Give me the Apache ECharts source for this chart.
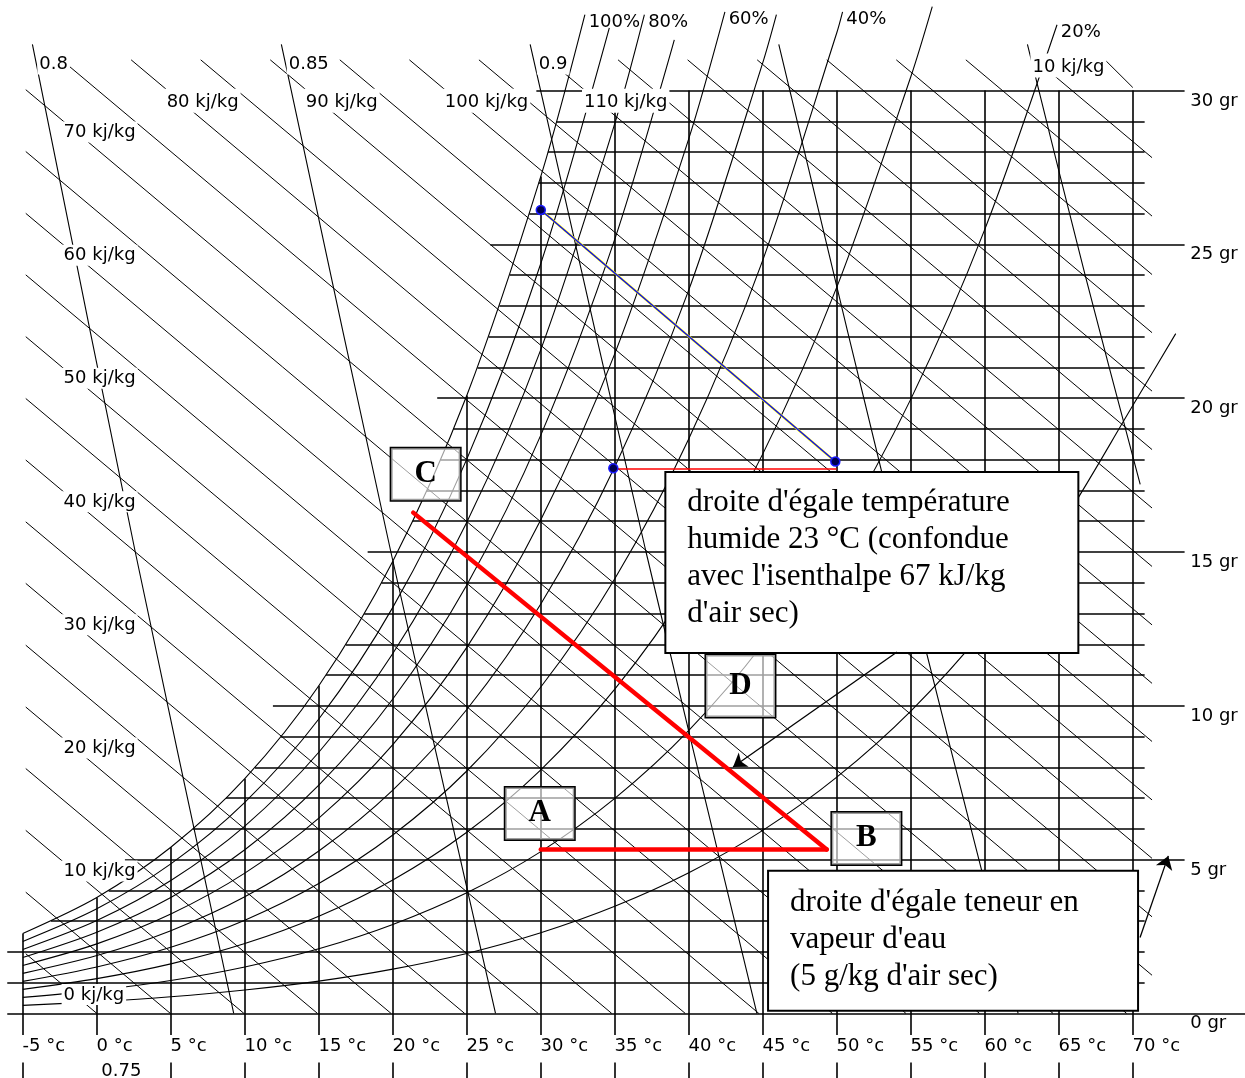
<!DOCTYPE html>
<html>
<head>
<meta charset="utf-8">
<title>Diagramme de l'air humide</title>
<script src="https://cdn.jsdelivr.net/npm/echarts@6/dist/echarts.min.js"></script>
<style>
  html, body { margin: 0; padding: 0; background: #fff; }
  #chart { width: 1245px; height: 1078px; }
</style>
</head>
<body>
<div id="chart"></div>
<script>
// dry-bulb temperature isotherms (°C) and where each one stops (g/kg)
const tempTicks = [-5, 0, 5, 10, 15, 20, 25, 30, 35, 40, 45, 50, 55, 60, 65, 70]
const isothermTop = [2.60, 3.77, 5.40, 7.63, 10.65, 14.70, 20.09, 27.21, 30, 30, 30, 30, 30, 30, 30, 30]

// moisture content lines (g/kg), left start and right end in °C
const moistureLevels = [0, 1, 2, 3, 4, 5, 6, 7, 8, 9, 10, 11, 12, 13, 14, 15, 16, 17, 18, 19, 20, 21, 22, 23, 24, 25, 26, 27, 28, 29, 30]
const moistureStart = [-6.05, -6.05, -6.05, -3.1, 0.8, 1.9, 6.5, 8.73, 10.69, 12.45, 11.9, 15.49, 16.83, 18.07, 19.23, 18.3,
  21.34, 22.31, 23.22, 24.10, 23.0, 25.72, 26.47, 27.20, 27.90, 26.6, 29.22, 29.86, 30.48, 31.08, 29.7]
const moistureEnd = [77.6, 70.8, 70.8, 70.8, 70.8, 73.5, 70.8, 70.8, 70.8, 70.8, 73.5, 70.8, 70.8, 70.8, 70.8, 73.5,
  70.8, 70.8, 70.8, 70.8, 73.5, 70.8, 70.8, 70.8, 70.8, 73.5, 70.8, 70.8, 70.8, 70.8, 73.5]
const moistureTicks = [0, 5, 10, 15, 20, 25, 30]

// isenthalps (kJ/kg) : [T, w] at each end
const enthalpyValues = [0, 5, 10, 15, 20, 25, 30, 35, 40, 45, 50, 55, 60, 65, 70, 75, 80, 85, 90, 95, 100, 105, 110, 115, 120, 125, 130, 135, 140, 145, 150]
const enthalpyFrom = [[-4.8, 1.94], [-4.8, 3.94], [-4.8, 5.95], [-4.8, 7.96], [-4.8, 9.96], [-4.8, 11.97], [-4.8, 13.98], [-4.8, 15.98],
  [-4.8, 17.99], [-4.8, 19.99], [-4.8, 22.0], [-4.8, 24.01], [-4.8, 26.01], [-4.8, 28.02], [-4.8, 30.03], [-2.38, 31], [2.32, 31],
  [7.02, 31], [11.72, 31], [16.42, 31], [21.12, 31], [25.82, 31], [30.52, 31], [35.22, 31], [39.92, 31], [44.62, 31], [49.32, 31],
  [54.02, 31], [58.72, 31], [63.42, 31], [68.12, 31]]
const enthalpyTo = [[0, 0], [4.97, 0], [9.94, 0], [14.91, 0], [19.88, 0], [24.85, 0], [29.82, 0], [34.79, 0], [39.76, 0], [44.73, 0],
  [49.70, 0], [54.67, 0], [59.64, 0], [64.61, 0], [69.58, 0], [71.3, 1.24], [71.3, 3.14], [71.3, 5.04], [71.3, 6.94], [71.3, 8.84],
  [71.3, 10.73], [71.3, 12.63], [71.3, 14.53], [71.3, 16.43], [71.3, 18.33], [71.3, 20.23], [71.3, 22.13], [71.3, 24.02],
  [71.3, 25.92], [71.3, 27.82], [70.0, 30.1]]
const enthalpyLabelText = ['0 kj/kg', '10 kj/kg', '20 kj/kg', '30 kj/kg', '40 kj/kg', '50 kj/kg', '60 kj/kg', '70 kj/kg',
  '80 kj/kg', '90 kj/kg', '100 kj/kg', '110 kj/kg', '10 kj/kg']
const enthalpyLabelAt = [[-2.36, 0.95], [-2.36, 4.96], [-2.36, 8.96], [-2.36, 12.97], [-2.36, 16.97], [-2.36, 20.98], [-2.36, 24.98],
  [-2.36, 28.99], [4.6, 30.05], [14.0, 30.05], [23.4, 30.05], [32.8, 30.05], [63.1, 31.2]]

// relative humidity curves, [T, w]
const rh100 = [[-5, 2.60], [0, 3.77], [5, 5.40], [10, 7.63], [15, 10.65], [20, 14.70], [25, 20.09], [30, 27.21], [32.98, 32.47]]
const rh90 = [[-5, 2.34], [0, 3.40], [5, 4.86], [10, 6.86], [15, 9.57], [20, 13.20], [25, 18.02], [30, 24.38], [34.63, 32.04]]
const rh80 = [[-5, 2.08], [0, 3.02], [5, 4.32], [10, 6.09], [15, 8.49], [20, 11.70], [25, 15.97], [30, 21.58], [35, 28.93], [37.0, 32.47]]
const rh70 = [[-5, 1.82], [0, 2.64], [5, 3.77], [10, 5.32], [15, 7.42], [20, 10.22], [25, 13.93], [30, 18.80], [35, 25.17], [39.02, 31.65]]
const rh60 = [[-5, 1.56], [0, 2.26], [5, 3.23], [10, 4.56], [15, 6.35], [20, 8.74], [25, 11.90], [30, 16.05], [35, 21.45], [40, 28.44], [42.44, 32.56]]
const rh50 = [[-5, 1.30], [0, 1.88], [5, 2.69], [10, 3.79], [15, 5.28], [20, 7.26], [25, 9.88], [30, 13.31], [35, 17.77], [40, 23.52], [45, 30.91], [45.92, 32.47]]
const rh40 = [[-5, 1.04], [0, 1.51], [5, 2.15], [10, 3.03], [15, 4.22], [20, 5.80], [25, 7.88], [30, 10.61], [35, 14.13], [40, 18.68], [45, 24.49], [50, 31.88], [50.39, 32.56]]
const rh30 = [[-5, 0.78], [0, 1.13], [5, 1.61], [10, 2.27], [15, 3.16], [20, 4.34], [25, 5.89], [30, 7.92], [35, 10.54], [40, 13.90], [45, 18.19], [50, 23.61], [55, 30.45], [56.45, 32.73]]
const rh20 = [[-5, 0.52], [0, 0.75], [5, 1.07], [10, 1.51], [15, 2.10], [20, 2.89], [25, 3.92], [30, 5.26], [35, 6.99], [40, 9.20], [45, 12.01], [50, 15.54], [55, 19.97], [60, 25.49], [64.88, 32.14]]
const rh10 = [[-5, 0.26], [0, 0.38], [5, 0.54], [10, 0.76], [15, 1.05], [20, 1.44], [25, 1.95], [30, 2.62], [35, 3.48], [40, 4.57], [45, 5.95], [50, 7.68], [55, 9.83], [60, 12.49], [65, 15.76], [70, 19.76], [72.9, 22.1]]
const rhLabelText = ['100%', '80%', '60%', '40%', '20%']
const rhLabelAt = [[32.98, 32.47], [37.0, 32.47], [42.44, 32.56], [50.39, 32.56], [64.88, 32.14]]

// specific volume lines (m3/kg)
const vol080 = [[9.25, 0], [2.60, 15], [-4.35, 31.5]]
const vol085 = [[26.94, 0], [19.87, 15], [12.47, 31.5]]
const vol090 = [[44.60, 0], [37.11, 15], [29.28, 31.5]]
const vol095 = [[62.25, 0], [54.35, 15], [46.08, 31.5]]
const vol100 = [[70.5, 17.2], [66.78, 24], [62.88, 31.5]]
const volumeLabelText = ['0.8', '0.85', '0.9', '0.75']
const volumeLabelAt = [[-4.0, 31.2], [12.85, 31.2], [29.75, 31.2], [-0.15, -1.55]]

// process marks
const lineAB = [[30, 5.33], [49.32, 5.33]]
const lineBC = [[49.32, 5.33], [21.38, 16.28]]
const mixLine = [[30, 26.12], [49.9, 17.94]]
const heatLine = [[34.9, 17.72], [49.99, 17.72]]
const statePoints = [[30, 26.12], [34.9, 17.72], [49.9, 17.94]]
const letterText = ['C', 'D', 'A', 'B']
const letterAt = [[22.22, 17.53], [43.49, 10.64], [29.93, 6.50], [52.0, 5.69]]
const arrowFrom = [[54.07, 11.75], [70.49, 2.47]]
const arrowTo = [[42.99, 8.01], [72.4, 5.12]]
const noteWetBulb = "droite d'égale température\nhumide 23 °C (confondue\navec l'isenthalpe 67 kJ/kg\nd'air sec)"
const noteMoisture = "droite d'égale teneur en\nvapeur d'eau\n(5 g/kg d'air sec)"
const noteAt = [[38.5, 17.56], [45.44, 4.6]]

// pixel mapping of the picture (0 °C / 0 g position and scale)
const X0 = 96.8, PX_C = 14.8, Y0 = 1013.4, PX_G = 30.76, W = 1245, H = 1078

const chart = echarts.init(document.getElementById('chart'))
const small = { fontFamily: 'DejaVu Sans', fontSize: 18, color: '#000', lineHeight: 18 }
const seg = (a, b) => ({ coords: [a, b] })
const segLines = (data, style, z) => ({ type: 'lines', coordinateSystem: 'cartesian2d', polyline: false, silent: true,
  z: z || 2, lineStyle: Object.assign({ color: '#000', width: 1, opacity: 1 }, style), data })
const curve = (data, width) => ({ type: 'line', data, symbol: 'none', smooth: 0.3, silent: true, z: 2,
  lineStyle: { color: '#000', width: width || 1.1 } })
const textSeries = (items, z) => ({ type: 'scatter', symbolSize: 0.5, silent: true, z: z || 5,
  itemStyle: { color: '#fff', opacity: 1 },
  data: items.map(it => ({ value: it.at, label: Object.assign({ show: true, opacity: 1, position: [0, 0], formatter: it.text }, it.style) })) })

const series = []
series.push(segLines(moistureLevels.map((w, i) => seg([moistureStart[i], w], [moistureEnd[i], w])), { width: 1.6 }))
series.push(segLines(tempTicks.map((t, i) => seg([t, -0.7], [t, isothermTop[i]])), { width: 1.6 }))
series.push(segLines(tempTicks.map(t => seg([t, -1.6], [t, -2.2])), { width: 1.6 }))
series.push(segLines(enthalpyValues.map((h, i) => seg(enthalpyFrom[i], enthalpyTo[i])), { width: 1 }))
;[rh100, rh90, rh80, rh70, rh60, rh50, rh40, rh30, rh20, rh10].forEach(c => series.push(curve(c)))
;[vol080, vol085, vol090, vol095, vol100].forEach(c => series.push(curve(c, 1.1)))

// process lines
series.push(segLines([seg(mixLine[0], mixLine[1])], { color: '#ffff00', width: 2.4 }, 3))
series.push(segLines([seg(mixLine[0], mixLine[1])], { color: '#0000ff', width: 1.3 }, 3))
series.push(segLines([seg(heatLine[0], heatLine[1])], { color: '#ff0000', width: 1.6 }, 3))
series.push(segLines([seg(lineAB[0], lineAB[1]), seg(lineBC[0], lineBC[1])], { color: '#ff0000', width: 4.5, cap: 'round' }, 3))
series.push({ type: 'scatter', data: statePoints, symbol: 'circle', symbolSize: 9, z: 4, silent: true,
  itemStyle: { color: '#000050', borderColor: '#1a1aff', borderWidth: 1.5, opacity: 1 } })

// labels
const bg = { backgroundColor: '#fff', padding: [2, 2, 1, 2] }
series.push(textSeries(enthalpyLabelAt.map((p, i) => ({ at: p, text: enthalpyLabelText[i], style: Object.assign({}, small, bg, i >= 8 ? { padding: [5, 2, 1, 2] } : {}) }))))
series.push(textSeries(volumeLabelAt.map((p, i) => ({ at: p, text: volumeLabelText[i], style: Object.assign({}, small, bg, i === 3 ? { padding: [2, 2, 2, 7] } : {}) }))))
series.push(textSeries(rhLabelAt.map((p, i) => ({ at: p, text: rhLabelText[i], style: Object.assign({}, small, { position: [4, -1] }) }))))
series.push(textSeries(tempTicks.map(t => ({ at: [t, -0.8], text: t + ' °c', style: small }))))
series.push(textSeries(moistureTicks.map(w => ({ at: [73.9, w - 0.05], text: w + ' gr', style: small }))))

// letter boxes and notes
series.push(textSeries(letterAt.map((p, i) => ({ at: p, text: letterText[i], style: {
  position: 'inside', align: 'center', verticalAlign: 'middle', fontFamily: 'Liberation Serif', fontWeight: 'bold', fontSize: 31,
  color: '#000', width: 69, height: i === 1 ? 62 : 52, lineHeight: i === 1 ? 62 : 52, backgroundColor: 'rgba(255,255,255,0.62)',
  borderColor: '#000', borderWidth: 1.5, textBorderWidth: 0 } })), 6))
const note = { fontFamily: 'Liberation Serif', fontSize: 31, color: '#000', lineHeight: 36.7, backgroundColor: '#fff',
  borderColor: '#000', borderWidth: 2 }
series.push(textSeries([
  { at: noteAt[0], text: noteWetBulb, style: Object.assign({}, note, { width: 371, height: 147, padding: [12, 19, 20, 21] }) },
  { at: noteAt[1], text: noteMoisture, style: Object.assign({}, note, { width: 336, height: 110, padding: [13, 11, 15, 21] }) }
], 6))

// arrows
series.push(Object.assign(segLines(arrowFrom.map((p, i) => seg(p, arrowTo[i])), { width: 1.3 }, 7),
  { symbol: ['none', 'arrow'], symbolSize: 13 }))

chart.setOption({
  animation: false,
  backgroundColor: '#fff',
  grid: { left: 0, right: 0, top: 0, bottom: 0 },
  xAxis: { type: 'value', min: -X0 / PX_C, max: (W - X0) / PX_C, show: false },
  yAxis: { type: 'value', min: -(H - Y0) / PX_G, max: Y0 / PX_G, show: false },
  series
})
</script>
</body>
</html>
